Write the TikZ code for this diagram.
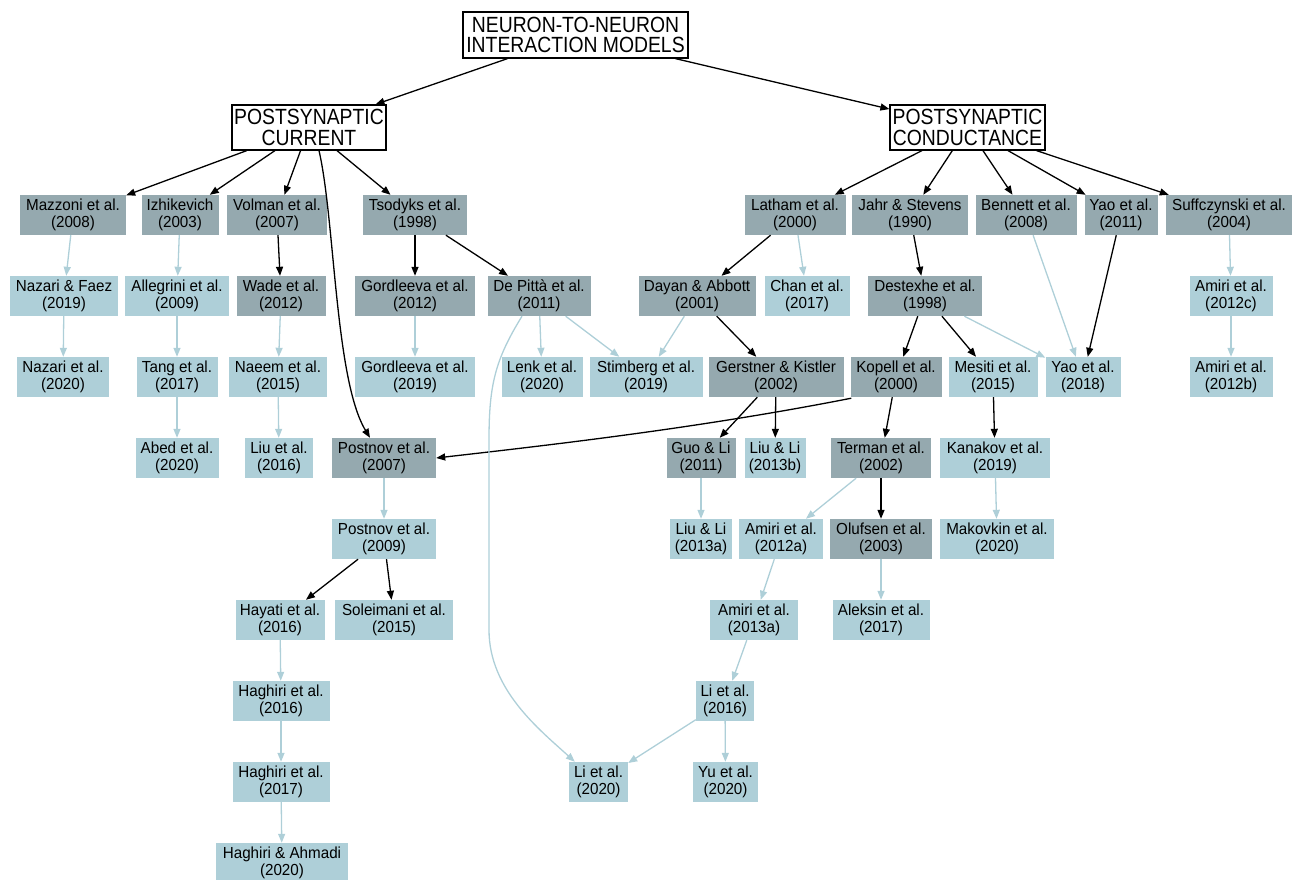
\documentclass[tikz,border=0pt]{standalone}
\usepackage{fontspec}
\setmainfont{Liberation Sans}
\newfontfamily\hdrfont[FakeStretch=0.88]{Liberation Sans}
\newfontfamily\bodyfont[FakeStretch=0.95]{Liberation Sans}
\usetikzlibrary{arrows.meta}
\definecolor{dk}{HTML}{95A9AF}
\definecolor{lt}{HTML}{AECFD8}
\begin{document}
\begin{tikzpicture}[x=1pt,y=-1pt,
 box/.style={inner sep=0pt, minimum height=40pt, align=center, font=\bodyfont\fontsize{16}{17.5}\selectfont},
 dkbox/.style={box, fill=dk},
 ltbox/.style={box, fill=lt},
 hdr/.style={draw=black, line width=1.2pt, fill=white, inner sep=0pt, align=center, font=\hdrfont\fontsize{22}{20.5}\selectfont},
 bk/.style={draw=black, line width=1.3pt, -{Triangle[length=9pt,width=7pt]}},
 lg/.style={draw=lt, line width=1.3pt, -{Triangle[length=9pt,width=7pt]}},
]
\useasboundingbox (0,0) rectangle (1292,880);
% headers
\node[hdr, minimum width=225pt, minimum height=46pt] (root) at (575.5,35) {NEURON-TO-NEURON\\INTERACTION MODELS};
\node[hdr, minimum width=154pt, minimum height=45pt] (psc) at (309,127.5) {POSTSYNAPTIC\\CURRENT};
\node[hdr, minimum width=155pt, minimum height=45pt] (cond) at (967.5,127.5) {POSTSYNAPTIC\\CONDUCTANCE};
% level 1
\node[dkbox, minimum width=106pt] (maz) at (73,215) {Mazzoni et al.\\(2008)};
\node[dkbox, minimum width=77pt] (izh) at (180,215) {Izhikevich\\(2003)};
\node[dkbox, minimum width=100pt] (vol) at (277,215) {Volman et al.\\(2007)};
\node[dkbox, minimum width=104pt] (tso) at (415,215) {Tsodyks et al.\\(1998)};
\node[dkbox, minimum width=101pt] (lat) at (795,215) {Latham et al.\\(2000)};
\node[dkbox, minimum width=116pt] (jahr) at (910,215) {Jahr \& Stevens\\(1990)};
\node[dkbox, minimum width=101pt] (ben) at (1026,215) {Bennett et al.\\(2008)};
\node[dkbox, minimum width=73pt] (yao11) at (1121,215) {Yao et al.\\(2011)};
\node[dkbox, minimum width=126pt] (suf) at (1229,215) {Suffczynski et al.\\(2004)};
% level 2
\node[ltbox, minimum width=108pt] (nf) at (64,296) {Nazari \& Faez\\(2019)};
\node[ltbox, minimum width=104pt] (alle) at (177,296) {Allegrini et al.\\(2009)};
\node[dkbox, minimum width=89pt] (wade) at (281,296) {Wade et al.\\(2012)};
\node[dkbox, minimum width=120pt] (gor12) at (415,296) {Gordleeva et al.\\(2012)};
\node[dkbox, minimum width=103pt] (dep) at (539,296) {De Pittà et al.\\(2011)};
\node[dkbox, minimum width=117pt] (day) at (697,296) {Dayan \& Abbott\\(2001)};
\node[ltbox, minimum width=85pt] (chan) at (807,296) {Chan et al.\\(2017)};
\node[dkbox, minimum width=114pt] (des) at (925,296) {Destexhe et al.\\(1998)};
\node[ltbox, minimum width=83pt] (am12c) at (1231,296) {Amiri et al.\\(2012c)};
% level 3
\node[ltbox, minimum width=92pt] (naz20) at (63,377) {Nazari et al.\\(2020)};
\node[ltbox, minimum width=81pt] (tang) at (177,377) {Tang et al.\\(2017)};
\node[ltbox, minimum width=98pt] (nae) at (278,377) {Naeem et al.\\(2015)};
\node[ltbox, minimum width=120pt] (gor19) at (415,377) {Gordleeva et al.\\(2019)};
\node[ltbox, minimum width=81pt] (lenk) at (542,377) {Lenk et al.\\(2020)};
\node[ltbox, minimum width=113pt] (stim) at (646,377) {Stimberg et al.\\(2019)};
\node[dkbox, minimum width=135pt] (ger) at (776,377) {Gerstner \& Kistler\\(2002)};
\node[dkbox, minimum width=91pt] (kop) at (896,377) {Kopell et al.\\(2000)};
\node[ltbox, minimum width=89pt] (mes) at (993,377) {Mesiti et al.\\(2015)};
\node[ltbox, minimum width=75pt] (yao18) at (1083,377) {Yao et al.\\(2018)};
\node[ltbox, minimum width=83pt] (am12b) at (1231,377) {Amiri et al.\\(2012b)};
% level 4
\node[ltbox, minimum width=83pt] (abed) at (177,458) {Abed et al.\\(2020)};
\node[ltbox, minimum width=68pt] (liu16) at (279,458) {Liu et al.\\(2016)};
\node[dkbox, minimum width=104pt] (post07) at (384,458) {Postnov et al.\\(2007)};
\node[dkbox, minimum width=69pt] (guo) at (701,458) {Guo \& Li\\(2011)};
\node[ltbox, minimum width=61pt] (liu13b) at (775,458) {Liu \& Li\\(2013b)};
\node[dkbox, minimum width=100pt] (ter) at (881,458) {Terman et al.\\(2002)};
\node[ltbox, minimum width=110pt] (kan) at (995,458) {Kanakov et al.\\(2019)};
% level 5
\node[ltbox, minimum width=104pt] (post09) at (384,539) {Postnov et al.\\(2009)};
\node[ltbox, minimum width=62pt] (liu13a) at (701,539) {Liu \& Li\\(2013a)};
\node[ltbox, minimum width=84pt] (am12a) at (781,539) {Amiri et al.\\(2012a)};
\node[dkbox, minimum width=102pt] (olu) at (881,539) {Olufsen et al.\\(2003)};
\node[ltbox, minimum width=114pt] (mak) at (997,539) {Makovkin et al.\\(2020)};
% level 6
\node[ltbox, minimum width=89pt] (hay) at (280,620) {Hayati et al.\\(2016)};
\node[ltbox, minimum width=118pt] (sol) at (394,620) {Soleimani et al.\\(2015)};
\node[ltbox, minimum width=88pt] (am13a) at (754,620) {Amiri et al.\\(2013a)};
\node[ltbox, minimum width=97pt] (alek) at (881,620) {Aleksin et al.\\(2017)};
% level 7
\node[ltbox, minimum width=97pt] (hag16) at (281,701) {Haghiri et al.\\(2016)};
\node[ltbox, minimum width=58pt] (li16) at (725,701) {Li et al.\\(2016)};
% level 8
\node[ltbox, minimum width=97pt] (hag17) at (281,782) {Haghiri et al.\\(2017)};
\node[ltbox, minimum width=59pt] (li20) at (598.5,782) {Li et al.\\(2020)};
\node[ltbox, minimum width=65pt] (yu20) at (725.5,782) {Yu et al.\\(2020)};
% level 9
\node[ltbox, minimum width=132pt] (hagah) at (282,863) {Haghiri \& Ahmadi\\(2020)};

% black edges
\draw[bk] (root) -- (psc);
\draw[bk] (root) -- (cond);
\draw[bk] (psc) -- (maz);
\draw[bk] (psc) -- (izh);
\draw[bk] (psc) -- (vol);
\draw[bk] (psc) -- (tso);
\draw[bk] ([xshift=10pt]psc.south) .. controls (335,220) and (335,380) .. ([xshift=-14pt]post07.north);
\draw[bk] (cond) -- (lat);
\draw[bk] (cond) -- (jahr);
\draw[bk] (cond) -- (ben);
\draw[bk] (cond) -- (yao11);
\draw[bk] (cond) -- (suf);
\draw[bk] (vol) -- (wade);
\draw[bk] (tso) -- (gor12);
\draw[bk] (tso) -- (dep);
\draw[bk] (lat) -- (day);
\draw[bk] (jahr) -- (des);
\draw[bk] (day) -- (ger);
\draw[bk] (des) -- (kop);
\draw[bk] (des) -- (mes);
\draw[bk] (yao11) -- (yao18);
\draw[bk] (ger) -- (guo);
\draw[bk] (ger) -- (liu13b);
\draw[bk] ([shift={(1pt,-1pt)}]kop.south west) .. controls (700,428) and (550,445) .. (post07.east);
\draw[bk] (kop) -- (ter);
\draw[bk] (mes) -- (kan);
\draw[bk] (ter) -- (olu);
\draw[bk] (post09) -- (hay);
\draw[bk] (post09) -- (sol);

% light edges
\draw[lg] (maz) -- (nf);
\draw[lg] (nf) -- (naz20);
\draw[lg] (izh) -- (alle);
\draw[lg] (alle) -- (tang);
\draw[lg] (tang) -- (abed);
\draw[lg] (wade) -- (nae);
\draw[lg] (nae) -- (liu16);
\draw[lg] (gor12) -- (gor19);
\draw[lg] (dep) -- (lenk);
\draw[lg] (dep) -- (stim);
\draw[lg] ([xshift=-17pt]dep.south) .. controls (495,360) and (489,385) .. (489,440) -- (489,630) .. controls (489,690) and (540,730) .. ([xshift=6pt]li20.north west);
\draw[lg] (lat) -- (chan);
\draw[lg] (day) -- (stim);
\draw[lg] (des) -- (yao18);
\draw[lg] (ben) -- (yao18);
\draw[lg] (suf) -- (am12c);
\draw[lg] (am12c) -- (am12b);
\draw[lg] (guo) -- (liu13a);
\draw[lg] (ter) -- (am12a);
\draw[lg] (am12a) -- (am13a);
\draw[lg] (am13a) -- (li16);
\draw[lg] (li16) -- (li20);
\draw[lg] (li16) -- (yu20);
\draw[lg] (kan) -- (mak);
\draw[lg] (olu) -- (alek);
\draw[lg] (post07) -- (post09);
\draw[lg] (hay) -- (hag16);
\draw[lg] (hag16) -- (hag17);
\draw[lg] (hag17) -- (hagah);
\end{tikzpicture}
\end{document}
